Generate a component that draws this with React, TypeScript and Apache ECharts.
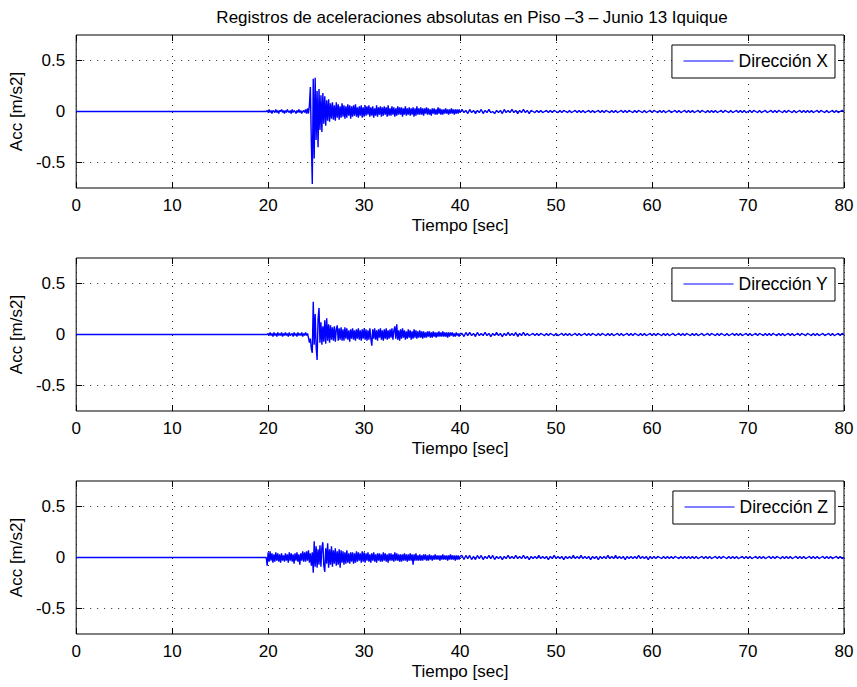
import React, { useEffect, useRef } from "react";
import * as echarts from "echarts";

// Accelerations in hundredths of m/s2.
// Fine record: 0.1 s sampling from 19.8 s to 40.0 s.
const T_FINE_START = 19.8;
const DT_FINE = 0.1;
// Tail record: 0.2 s sampling from 40.2 s to 80.0 s.
const T_TAIL_START = 40.2;
const DT_TAIL = 0.2;

const SERIES_NAMES = ["Dirección X", "Dirección Y", "Dirección Z"];
const TIME_TICKS = [0, 10, 20, 30, 40, 50, 60, 70, 80];
const ACC_TICKS = [-0.5, 0, 0.5];

const X_FINE = [
  0, 1, -1, 2, -1, 1, -2, 1, 0, -1,
  2, -1, 1, -2, 1, 0, 2, -1, 1, -2,
  1, -1, 2, 0, -1, 1, -2, 2, -1, 1,
  0, -2, 1, -1, 2, -1, 1, -2, 0, 1,
  -1, 2, -2, 3, -2, 6, 24, -30, -71, 32,
  -46, 33, -28, 20, -35, 22, -18, 16, -20, 18,
  -12, 15, -14, 11, -9, 12, -10, 8, -7, 9,
  -8, 6, -9, 9, -6, 7, -8, 5, -6, 8,
  -5, 6, -7, 5, -6, 7, -4, 6, -7, 5,
  -5, 6, -4, 7, -5, 4, -6, 5, -4, 6,
  -6, 4, -5, 6, -4, 5, -3, 6, -5, 4,
  -4, 5, -6, 3, -4, 6, -5, 4, -3, 5,
  -5, 4, -4, 5, -3, 4, -5, 6, -4, 3,
  -4, 5, -3, 4, -5, 3, -4, 5, -3, 4,
  -3, 4, -5, 3, -3, 5, -4, 3, -3, 4,
  -4, 3, -3, 4, -5, 3, -4, 5, -3, 3,
  -3, 4, -3, 3, -4, 3, -2, 4, -3, 3,
  -3, 2, -4, 3, -2, 3, -3, 2, -3, 4,
  -2, 3, -3, 2, -3, 2, -2, 3, -2, 2,
  -3, 2, -2, 3, -2, 2, -3, 2, -2, 2,
  -2, 2, -1,
];

const X_TAIL = [
  2, -1, 1, -2, 2, -1, 1, -2, 1, -1,
  2, -2, 1, -1, 2, -1, 0, -2, 1, -1,
  1, -2, 2, -1, 1, -1, 2, -1, 1, -2,
  1, -1, 2, -1, 1, -2, 1, 0, -1, 1,
  -1, 1, -1, 0, 1, -1, 1, -1, 1, 0,
  -1, 1, -1, 1, 0, -1, 1, -1, 0, 1,
  -1, 1, -1, 1, -1, 0, 1, -1, 1, -1,
  0, 1, -1, 1, -1, 1, 0, -1, 1, -1,
  1, -1, 0, 1, -1, 1, -1, 1, 0, -1,
  1, -1, 1, 0, -1, 1, -1, 0, 1, -1,
  1, 0, -1, 1, -1, 1, -1, 0, 1, -1,
  0, 1, -1, 1, -1, 0, 1, -1, 1, -1,
  1, -1, 0, 1, -1, 1, 0, -1, 1, -1,
  1, -1, 1, -1, 0, 1, -1, 1, 0, -1,
  1, -1, 0, 1, -1, 1, -1, 1, -1, 0,
  1, -1, 1, 0, -1, 1, -1, 0, 1, -1,
  0, 1, -1, 1, -1, 1, 0, -1, 1, -1,
  1, 0, -1, 1, -1, 0, 1, -1, 1, -1,
  1, -1, 1, -1, 0, 1, -1, 1, 0, -1,
  1, -1, 0, 1, -1, 1, -1, 0, 1, 0,
];

const Y_FINE = [
  0, 0, 1, -1, 2, -1, 1, -2, 2, -1,
  1, -2, 2, -1, 1, -1, 2, -2, 1, -1,
  2, -1, 1, -2, 2, -1, 0, 1, -2, 2,
  -1, 1, -2, 2, -1, 1, -1, 2, -2, 1,
  -1, 2, -1, 1, -3, -8, -4, -14, -18, 32,
  -10, 20, -12, -25, 15, 26, -8, 12, -10, 8,
  -7, 14, -9, 16, -6, 10, -8, 9, -5, 7,
  -6, 8, -7, 5, 9, -6, 6, -5, 7, -6,
  5, -6, 7, -4, 6, -5, 4, -7, 5, -4,
  6, -5, 4, -6, 5, -4, 6, -5, 4, -6,
  5, -4, 6, -5, 5, -6, 4, -5, 6, -4,
  -11, 5, -4, 6, -5, 4, -6, 5, -3, 6,
  -5, 4, -6, 5, -4, 6, -5, 4, -4, 5,
  -3, 6, -5, 4, 8, -4, 10, -5, 4, -6,
  5, -4, 6, -3, 4, -5, 3, -4, 5, -3,
  4, -5, 3, -4, 5, -3, 4, -4, 3, -3,
  4, -3, 3, -4, 3, -3, 2, -3, 3, -2,
  3, -3, 2, -3, 3, -2, 2, -3, 2, -2,
  3, -2, 2, -2, 3, -2, 2, -2, 2, -3,
  2, -2, 2, -1, 2, -2, 1, -2, 2, -1,
  1, -2, 1,
];

const Y_TAIL = [
  1, -2, 2, -1, 2, -1, 1, -2, 2, -1,
  1, -1, 2, -1, 1, -2, 1, -1, 2, -1,
  1, -2, 1, -1, 2, -1, 1, -1, 2, -2,
  1, -1, 2, -1, 1, -1, 0, 1, -1, 1,
  -1, 1, 0, -1, 1, -1, 1, 0, -1, 1,
  -1, 0, 1, -1, 1, -1, 1, -1, 0, 1,
  -1, 1, -1, 0, 1, -1, 1, -1, 1, 0,
  -1, 1, -1, 1, 0, -1, 1, -1, 1, -1,
  0, 1, -1, 1, -1, 0, 1, -1, 1, -1,
  1, 0, -1, 1, -1, 1, -1, 0, 1, -1,
  1, -1, 1, 0, -1, 1, -1, 1, -1, 0,
  1, -1, 0, 1, -1, 1, -1, 1, 0, -1,
  1, -1, 1, -1, 0, 1, -1, 0, 1, -1,
  1, 0, -1, 1, -1, 1, 0, -1, 1, -1,
  0, 1, -1, 1, -1, 1, -1, 0, 1, -1,
  1, -1, 0, 1, -1, 1, 0, -1, 1, -1,
  1, -1, 1, 0, -1, 1, -1, 1, -1, 0,
  1, -1, 1, -1, 0, 1, -1, 1, 0, -1,
  1, 0, -1, 1, -1, 1, -1, 0, 1, -1,
  0, 1, -1, 1, -1, 0, 1, -1, 1, 0,
];

const Z_FINE = [
  0, -8, 5, -4, 6, -3, 4, -5, 3, -4,
  5, -3, 4, -4, 3, -5, 4, -3, 2, -4,
  4, -3, 3, -5, 5, -3, 4, -4, 3, -6,
  4, -3, 5, -4, 3, -7, 4, -3, 6, -4,
  5, -4, 6, -3, 7, -5, 4, -8, 5, -15,
  16, -9, 11, -10, 8, -7, 12, -9, 10, 15,
  -8, -14, 9, -6, 14, -10, 8, -7, 11, -9,
  7, -6, 9, -8, 6, -7, 8, -10, 7, -5,
  6, -7, 5, -6, 7, -5, 4, -6, 5, -4,
  5, -6, 4, -5, 6, -4, 5, -3, 4, -5,
  6, -4, 5, -5, 4, -3, 5, -4, 3, -5,
  4, -3, 5, -4, 3, -5, 4, -3, 4, -4,
  3, -4, 5, -3, 4, -4, 3, -5, 4, -3,
  4, -3, 3, -4, 5, -3, 4, -3, 3, -4,
  3, -4, 3, -3, 4, -3, 3, -4, 3, -3,
  4, -3, 3, -7, 3, -3, 4, -3, 2, -3,
  3, -3, 2, -3, 3, -2, 3, -3, 2, -3,
  3, -2, 2, -3, 2, -2, 3, -2, 2, -2,
  2, -3, 2, -2, 3, -2, 2, -2, 2, -3,
  2, -2, 3, -2, 2, -2, 2, -3, 2, -2,
  2, -2, 1,
];

const Z_TAIL = [
  2, -2, 2, -1, 2, -2, 1, -2, 2, -1,
  2, -2, 1, -1, 2, -1, 2, -2, 1, -1,
  1, -2, 1, -1, 2, -1, 1, -1, 2, -1,
  1, -1, 2, -1, 1, -2, 1, -1, 1, -1,
  2, -1, 1, -1, 1, -2, 1, -1, 2, -1,
  1, -1, 1, -2, 1, -1, 1, -1, 2, -1,
  1, -1, 2, -1, 1, -1, 1, -2, 1, -1,
  1, -2, 1, -1, 1, -1, 2, -1, 1, -1,
  2, -1, 1, -1, 1, -2, 1, -1, 1, -1,
  1, -1, 2, -1, 1, -1, 1, -2, 1, -1,
  1, -1, 1, 0, -1, 1, -1, 1, -1, 1,
  -1, 1, 0, -1, 1, -1, 1, -1, 1, -1,
  1, -1, 1, -1, 0, 1, -1, 1, -1, 1,
  -1, 0, 1, -1, 1, -1, 1, 0, -1, 1,
  -1, 1, -1, 1, -1, 0, 1, -1, 1, -1,
  1, -1, 0, 1, -1, 1, -1, 1, -1, 0,
  1, -1, 1, -1, 1, 0, -1, 1, -1, 1,
  -1, 1, -1, 0, 1, -1, 1, -1, 1, -1,
  0, 1, -1, 1, -1, 1, -1, 0, 1, -1,
  1, -1, 1, -1, 0, 1, -1, 1, -1, 0,
];

const FONT = "'Liberation Sans', Arial, Helvetica, sans-serif";
const GRID_TOPS = [35, 258, 481];
const GRID_HEIGHT = 153;
const GRID_LEFT = 76;
const GRID_RIGHT = 13;

function buildTrace(fine: number[], tail: number[]): number[][] {
  const pts: number[][] = [[0, 0]];
  fine.forEach((v, i) => {
    pts.push([+(T_FINE_START + i * DT_FINE).toFixed(2), v / 100]);
  });
  tail.forEach((v, i) => {
    pts.push([+(T_TAIL_START + i * DT_TAIL).toFixed(2), v / 100]);
  });
  return pts;
}

const TRACES = [
  buildTrace(X_FINE, X_TAIL),
  buildTrace(Y_FINE, Y_TAIL),
  buildTrace(Z_FINE, Z_TAIL),
];

export default function App() {
  const ref = useRef<HTMLDivElement>(null);

  useEffect(() => {
    if (!ref.current) return;
    const chart = echarts.init(ref.current, undefined, { renderer: "svg" });

    const dotted = { color: "#222", width: 1, type: [1, 6] as number[] };
    const tick = { inside: true, length: 6, lineStyle: { color: "#000", width: 1 } };
    const label = { color: "#000", fontSize: 17, fontFamily: FONT };
    const nameStyle = { color: "#000", fontSize: 17, fontFamily: FONT };
    const hiddenLine = { show: false, onZero: false };

    const grid = GRID_TOPS.map((top) => ({
      left: GRID_LEFT,
      right: GRID_RIGHT,
      top,
      height: GRID_HEIGHT,
      show: true,
      borderColor: "#000",
      borderWidth: 1,
      backgroundColor: "transparent",
    }));

    const xAxis: any[] = [];
    const yAxis: any[] = [];
    GRID_TOPS.forEach((_, i) => {
      xAxis.push({
        type: "value",
        gridIndex: i,
        min: 0,
        max: 80,
        interval: 10,
        position: "bottom",
        axisLine: hiddenLine,
        axisTick: { ...tick, customValues: TIME_TICKS },
        axisLabel: { ...label, margin: 9, customValues: TIME_TICKS },
        splitLine: { show: true, lineStyle: dotted },
        name: "Tiempo [sec]",
        nameLocation: "middle",
        nameGap: 29,
        nameTextStyle: nameStyle,
      });
      xAxis.push({
        type: "value",
        gridIndex: i,
        min: 0,
        max: 80,
        interval: 10,
        position: "top",
        axisLine: hiddenLine,
        axisTick: tick,
        axisLabel: { show: false },
        splitLine: { show: false },
      });
      yAxis.push({
        type: "value",
        gridIndex: i,
        min: -0.75,
        max: 0.75,
        position: "left",
        axisLine: hiddenLine,
        axisTick: { ...tick, customValues: ACC_TICKS },
        axisLabel: { ...label, margin: 11, customValues: ACC_TICKS },
        splitLine: { show: true, lineStyle: dotted },
        name: "Acc [m/s2]",
        nameLocation: "middle",
        nameGap: 50,
        nameTextStyle: nameStyle,
      });
      yAxis.push({
        type: "value",
        gridIndex: i,
        min: -0.75,
        max: 0.75,
        position: "right",
        axisLine: hiddenLine,
        axisTick: { ...tick, customValues: ACC_TICKS },
        axisLabel: { show: false },
        splitLine: { show: false },
      });
    });

    const series = TRACES.map((data, i) => ({
      type: "line",
      name: SERIES_NAMES[i],
      xAxisIndex: i * 2,
      yAxisIndex: i * 2,
      data,
      symbol: "none",
      showSymbol: false,
      z: 5,
      lineStyle: { color: "#0000ff", width: 1.4 },
      itemStyle: { color: "#0000ff" },
      silent: true,
    }));

    const legend = GRID_TOPS.map((top, i) => ({
      data: [SERIES_NAMES[i]],
      right: 22,
      top: top + 10,
      selectedMode: false,
      borderColor: "#000",
      borderWidth: 1,
      borderRadius: 0,
      backgroundColor: "#fff",
      padding: [7, 7, 8, 11],
      itemWidth: 50,
      itemHeight: 14,
      itemStyle: { opacity: 0 },
      lineStyle: { color: "#0000ff", width: 1.2 },
      textStyle: { color: "#000", fontSize: 17.5, fontFamily: FONT },
    }));

    chart.setOption({
      animation: false,
      backgroundColor: "#fff",
      title: {
        text: "Registros de aceleraciones absolutas en Piso –3 – Junio 13 Iquique",
        left: 467,
        textAlign: "center",
        top: 4,
        textStyle: { color: "#000", fontSize: 17, fontWeight: "normal", fontFamily: FONT },
      },
      grid,
      xAxis,
      yAxis,
      legend,
      series,
    });

    return () => chart.dispose();
  }, []);

  return (
    <div
      ref={ref}
      style={{ position: "fixed", left: 0, top: 0, width: 857, height: 687 }}
    />
  );
}
